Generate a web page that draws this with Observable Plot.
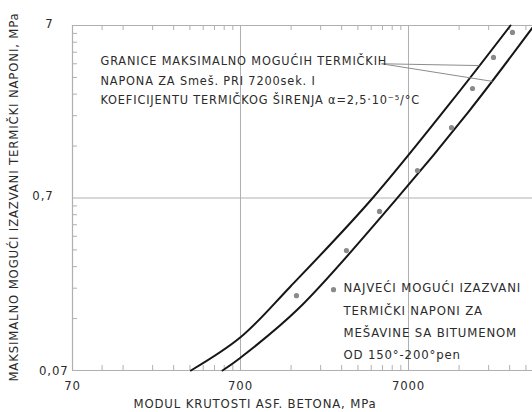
<!DOCTYPE html>
<html>
<head>
<meta charset="utf-8">
<script src="https://cdn.jsdelivr.net/npm/d3@7"></script>
<script src="https://cdn.jsdelivr.net/npm/@observablehq/plot@0.6"></script>
<style>
  html, body { margin: 0; padding: 0; background: #fff; }
  #chart svg text { letter-spacing: 0.85px; }
</style>
</head>
<body>
<div id="chart"></div>
<script>
// ---- data ----
// upper boundary curve: modulus (MPa) vs stress (MPa)
const upperX = [355, 700, 1389, 4158, 12446, 28322];
const upperY = [0.07, 0.109, 0.215, 0.677, 2.5, 7];
// lower boundary curve
const lowerX = [547, 700, 1551, 5858, 16150, 38300];
const lowerY = [0.07, 0.083, 0.16, 0.68, 2.25, 6.8];
// measured points
const pointX = [1507, 2505, 2990, 4705, 7914, 12620, 16830, 22440, 29110];
const pointY = [0.19, 0.206, 0.347, 0.585, 1.01, 1.79, 3.02, 4.57, 6.38];
// leader lines from the note to the two curves
const leaderX1 = [4840, 4840];
const leaderY1 = [4.2, 4.2];
const leaderX2 = [18500, 22100];
const leaderY2 = [4.1, 3.32];
// ticks
const xMajor = [70, 700, 7000];
const yMajorInner = [0.07];
const yMajorOuter = [0.7, 7];
const xMinor = [105, 140, 210, 280, 350, 420, 490, 560, 630,
                1400, 2100, 2800, 3500, 4200, 4900, 5600, 6300,
                14000, 21000, 28000, 35000];
const yMinor = [0.14, 0.21, 0.28, 0.35, 0.42, 0.49, 0.56, 0.63,
                1.4, 2.1, 2.8, 3.5, 4.2, 4.9, 5.6, 6.3];
// texts
const xTitle = "MODUL KRUTOSTI ASF. BETONA, MPa";
const yTitle = "MAKSIMALNO MOGUĆI IZAZVANI TERMIČKI NAPONI, MPa";
const note1 = ["GRANICE MAKSIMALNO MOGUĆIH TERMIČKIH",
               "NAPONA ZA Smeš. PRI 7200sek. I",
               "KOEFICIJENTU TERMIČKOG ŠIRENJA α=2,5·10⁻⁵/°C"];
const note2 = ["NAJVEĆI MOGUĆI IZAZVANI",
               "TERMIČKI NAPONI ZA",
               "MEŠAVINE SA BITUMENOM",
               "OD 150°-200°pen"];

// ---- build tables ----
const upper = upperX.map((x, i) => ({x, y: upperY[i]}));
const lower = lowerX.map((x, i) => ({x, y: lowerY[i]}));
const points = pointX.map((x, i) => ({x, y: pointY[i]}));
const leaders = leaderX1.map((x1, i) => ({x1, y1: leaderY1[i], x2: leaderX2[i], y2: leaderY2[i]}));

const gray = "#b0b0b0";
const ink = "#2b2b2b";
const fmt = d => String(d).replace(".", ",");
const fs = 13;

const chart = Plot.plot({
  width: 532,
  height: 412,
  marginLeft: 72,
  marginTop: 25,
  marginBottom: 42,
  marginRight: 0,
  style: {fontFamily: "'DejaVu Sans Condensed', 'DejaVu Sans', sans-serif", fontSize: "13px", color: ink, background: "#fff"},
  x: {type: "log", domain: [70, 38300], axis: null},
  y: {type: "log", domain: [0.07, 7], axis: null},
  marks: [
    // grid
    Plot.ruleX([700, 7000], {stroke: gray, strokeWidth: 1}),
    Plot.ruleY([0.7], {stroke: gray, strokeWidth: 1}),
    // frame (left, top, bottom)
    Plot.ruleX([70], {stroke: gray, strokeWidth: 1.2}),
    Plot.ruleY([0.07, 7], {stroke: gray, strokeWidth: 1.2}),
    // minor ticks (inward)
    Plot.ruleX(xMinor, {stroke: gray, insetTop: 340}),
    Plot.ruleX(xMinor, {stroke: gray, insetBottom: 340}),
    Plot.ruleY(yMinor, {stroke: gray, insetRight: 455}),
    // tick labels
    Plot.text(xMajor, {x: d => d, text: d => String(d), frameAnchor: "bottom", dy: 15, lineAnchor: "middle", textAnchor: "middle", fill: ink, fontSize: fs}),
    Plot.text(yMajorInner, {y: d => d, text: fmt, frameAnchor: "left", dx: -4, textAnchor: "end", lineAnchor: "middle", fill: ink, fontSize: fs}),
    Plot.text(yMajorOuter, {y: d => d, text: fmt, frameAnchor: "left", dx: -19, dy: -2, textAnchor: "end", lineAnchor: "middle", fill: ink, fontSize: fs}),
    // axis titles
    Plot.text([xTitle], {frameAnchor: "bottom-left", dx: 61, dy: 33, textAnchor: "start", lineAnchor: "middle", fill: ink, fontSize: fs}),
    Plot.text([yTitle], {frameAnchor: "left", dx: -59, dy: -1, rotate: -90, textAnchor: "middle", lineAnchor: "middle", fill: ink, fontSize: fs}),
    // curves
    Plot.line(upper, {x: "x", y: "y", curve: "catmull-rom", stroke: "#161616", strokeWidth: 2}),
    Plot.line(lower, {x: "x", y: "y", curve: "catmull-rom", stroke: "#161616", strokeWidth: 2}),
    // points
    Plot.dot(points, {x: "x", y: "y", r: 2.6, fill: "#8a8a8a", stroke: "none"}),
    // leaders
    Plot.link(leaders, {x1: "x1", y1: "y1", x2: "x2", y2: "y2", stroke: "#8c8c8c", strokeWidth: 1}),
    // notes
    Plot.text([note1.join("\n")], {frameAnchor: "top-left", dx: 28, dy: 26, textAnchor: "start", lineAnchor: "top", lineHeight: 1.55, fill: ink, fontSize: 12.6}),
    Plot.text([note2.join("\n")], {frameAnchor: "top-left", dx: 271, dy: 251, textAnchor: "start", lineAnchor: "top", lineHeight: 1.72, fill: ink, fontSize: fs})
  ]
});
document.getElementById("chart").append(chart);
</script>
</body>
</html>
